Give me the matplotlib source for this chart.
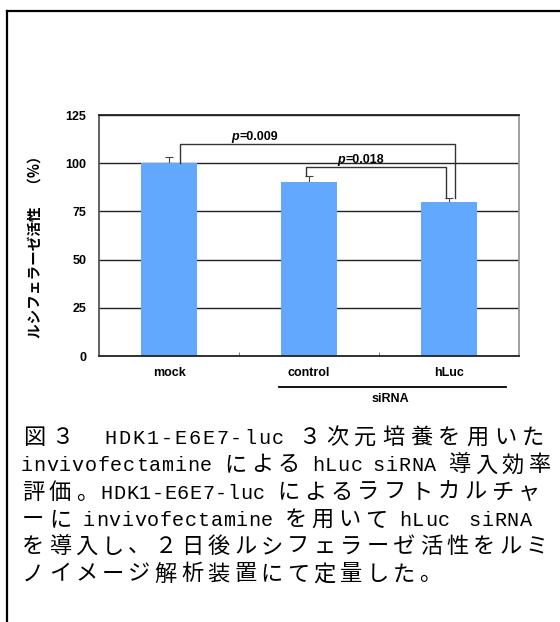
import matplotlib
matplotlib.use('Agg')
import matplotlib.pyplot as plt
from matplotlib.lines import Line2D

# luciferase activity relative to mock (%)
groups = ['mock', 'control', 'hLuc']
activity = [100, 90, 80]
activity_err = [3, 3.5, 2]
y_ticks = [0, 25, 50, 75, 100, 125]

# significance brackets between bars
pairs = [(0, 2), (1, 2)]
pair_height = [110, 98]
pair_p = ['0.009', '0.018']

ylabel = 'ルシフェラーゼ活性　（%）'
group_label = 'siRNA'

caption = [
    '図３　HDK1-E6E7-luc ３次元培養を用いた',
    'invivofectamine による hLuc siRNA 導入効率',
    '評価。HDK1-E6E7-luc によるラフトカルチャ',
    'ーに invivofectamine を用いて hLuc  siRNA',
    'を導入し、２日後ルシフェラーゼ活性をルミ',
    'ノイメージ解析装置にて定量した。',
]

W, H = 560, 622
BAR_COLOR = '#63a8ff'
LINE_COLOR = '#333333'
LATIN = ['Liberation Sans']
JP = ['Noto Sans CJK JP', 'DejaVu Sans']
FS = 9


def fx(px):
    return px / W


def fy(py):
    return 1 - py / H


fig = plt.figure(figsize=(W / 100, H / 100), dpi=100)

# frame of the figure box (left and top edges only)
fig.add_artist(Line2D([fx(7), fx(7)], [0, fy(10.5)], color='black', lw=1.6))
fig.add_artist(Line2D([fx(7), 1], [fy(10.5), fy(10.5)], color='black', lw=1.6))

ax = fig.add_axes([fx(99), fy(356), fx(519) - fx(99), fy(115) - fy(356)])
x = list(range(len(groups)))

ax.bar(x, activity, width=0.4, color=BAR_COLOR, zorder=2)
ax.errorbar(x, activity, yerr=[[0] * len(x), activity_err], fmt='none',
            ecolor='#444444', elinewidth=0.8, capsize=3, capthick=0.8, zorder=1.5)

ax.set_xlim(-0.5, 2.5)
ax.set_ylim(0, 125)
ax.set_yticks(y_ticks)
ax.set_yticklabels([str(t) for t in y_ticks], fontsize=FS, fontweight='bold', family=LATIN)
ax.set_xticks(x)
ax.set_xticklabels(groups, fontsize=FS, fontweight='bold', family=LATIN)
ax.set_xticks([0.5, 1.5], minor=True)
ax.tick_params(axis='y', length=0, pad=9)
ax.tick_params(axis='x', which='major', length=0, pad=8)
ax.tick_params(axis='x', which='minor', direction='in', length=3, color='#666666')

ax.set_axisbelow(True)
ax.yaxis.grid(True, color='#222222', lw=1)
for side, col in [('left', '#555555'), ('bottom', '#222222'), ('right', '#999999'), ('top', '#222222')]:
    ax.spines[side].set_color(col)
    ax.spines[side].set_linewidth(1.3)

# brackets with p values
leg_offset = [(0.08, 0.04), (-0.02, -0.02)]
p_x = [0.5, 1.26]
for (a, b), h, p, (oa, ob), px in zip(pairs, pair_height, pair_p, leg_offset, p_x):
    xa, xb = a + oa, b + ob
    ya = activity[a] + (activity_err[a] if abs(oa) < 0.05 else 0)
    yb = activity[b] + activity_err[b]
    ax.plot([xa, xa, xb, xb], [ya, h, h, yb], color=LINE_COLOR, lw=1, zorder=3,
            solid_joinstyle='miter')
    ax.text(px, h + 0.6, 'p', fontsize=FS, fontweight='bold', style='italic',
            family=LATIN, ha='right', va='bottom')
    ax.text(px, h + 0.6, '=' + p, fontsize=FS, fontweight='bold',
            family=LATIN, ha='left', va='bottom')

# siRNA group underline
tr = ax.get_xaxis_transform()
ax.plot([0.786, 2.407], [-0.129, -0.129], color='black', lw=1.3, transform=tr, clip_on=False)
ax.text(1.58, -0.178, group_label, transform=tr, fontsize=FS, fontweight='bold',
        family=LATIN, ha='center', va='center')

fig.text(fx(35), fy(243), ylabel, rotation=90, fontsize=10.5, fontweight='bold',
         family=JP, ha='center', va='center')

# caption: fixed-pitch grid, lines justified to their right edge
FULL = 26.5
HALF = 12.5
SPACE = 9
LEFT = 20
line_right = [547, 553, 542, 532, 550, None]


def advance(ch):
    if ch == ' ':
        return SPACE
    return HALF if ord(ch) < 128 else FULL


for i, (line, right) in enumerate(zip(caption, line_right)):
    base = 444 + i * 27.3
    natural = sum(advance(c) for c in line)
    extra = 0 if right is None else (right - LEFT - natural) / len(line)
    cx = LEFT
    for ch in line:
        w = advance(ch) + extra
        if ch not in ' 　':
            if ord(ch) < 128:
                fig.text(fx(cx + w / 2), fy(base), ch, ha='center', va='baseline',
                         fontsize=14.5, family=['Liberation Mono'])
            else:
                fig.text(fx(cx + w / 2), fy(base), ch, ha='center', va='baseline',
                         fontsize=16, family=JP)
        cx += w

fig.savefig('out.png', dpi=100)
